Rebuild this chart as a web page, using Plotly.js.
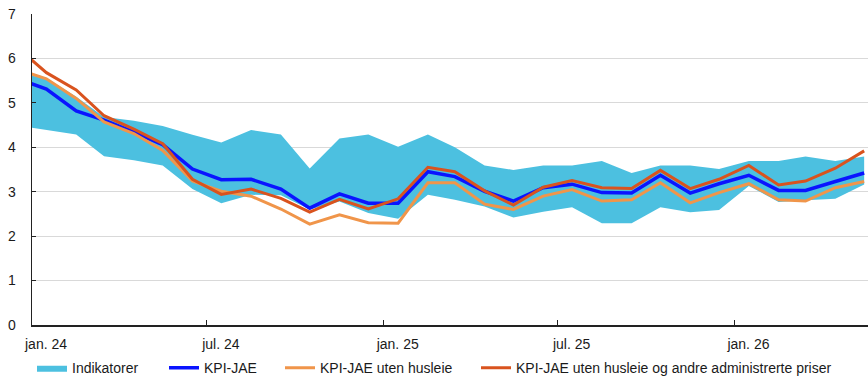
<!DOCTYPE html>
<html>
<head>
<meta charset="utf-8">
<script src="https://cdn.plot.ly/plotly-3.0.1.min.js"></script>
<style>html,body{margin:0;padding:0;background:#fff;}#chart{width:868px;height:379px;}</style>
</head>
<body>
<div id="chart"></div>
<script>
// Monthly observations (mid-month); Dec 2023 lies just left of the visible range
const months = ['2023-12-16','2024-01-16','2024-02-16','2024-03-16','2024-04-16','2024-05-16','2024-06-16',
  '2024-07-16','2024-08-16','2024-09-16','2024-10-16','2024-11-16','2024-12-16',
  '2025-01-16','2025-02-16','2025-03-16','2025-04-16','2025-05-16','2025-06-16',
  '2025-07-16','2025-08-16','2025-09-16','2025-10-16','2025-11-16','2025-12-16',
  '2026-01-16','2026-02-16','2026-03-16','2026-04-16','2026-05-16'];

const indikatorerHigh = [5.66,5.56,5.14,4.68,4.60,4.48,4.28,4.11,4.39,4.29,3.52,4.20,4.29,4.01,4.29,4.00,3.59,3.49,3.59,3.59,3.69,3.42,3.59,3.59,3.51,3.69,3.69,3.79,3.69,3.79];
const indikatorerLow  = [4.49,4.39,4.29,3.80,3.71,3.59,3.06,2.74,2.93,2.92,2.60,2.78,2.52,2.39,2.93,2.82,2.67,2.42,2.55,2.65,2.29,2.29,2.65,2.54,2.59,3.13,2.77,2.81,2.84,3.16];
const kpiJae          = [5.55,5.31,4.82,4.61,4.34,4.06,3.51,3.27,3.28,3.06,2.63,2.95,2.74,2.74,3.45,3.34,3.01,2.79,3.09,3.17,2.98,2.97,3.37,2.97,3.18,3.37,3.03,3.03,3.23,3.42];
const kpiJaeUtenHusleie = [5.76,5.54,5.10,4.57,4.31,3.93,3.24,3.01,2.90,2.61,2.27,2.48,2.30,2.29,3.20,3.20,2.72,2.60,2.90,3.05,2.79,2.82,3.20,2.75,2.98,3.18,2.82,2.79,3.09,3.23];
const kpiJaeUtenAdm   = [6.26,5.68,5.29,4.71,4.41,4.08,3.28,2.94,3.06,2.85,2.54,2.83,2.61,2.84,3.55,3.45,3.02,2.70,3.10,3.25,3.09,3.07,3.48,3.07,3.28,3.59,3.15,3.24,3.53,3.92];

const tickDates = ['2024-01-01','2024-07-01','2025-01-01','2025-07-01','2026-01-01'];
const tickLabels = ['jan. 24','jul. 24','jan. 25','jul. 25','jan. 26'];
const yTicks = [0,1,2,3,4,5,6,7];

const names = ['Indikatorer','KPI-JAE','KPI-JAE uten husleie','KPI-JAE uten husleie og andre administrerte priser'];

const traces = [
  {x: months, y: indikatorerLow, type:'scatter', mode:'lines', line:{width:0, color:'#4cc0e0'}, showlegend:false, hoverinfo:'skip'},
  {x: months, y: indikatorerHigh, type:'scatter', mode:'lines', fill:'tonexty', fillcolor:'#4cc0e0', line:{width:0, color:'#4cc0e0'}, name:names[0], legend:'legend'},
  {x: months, y: kpiJae, type:'scatter', mode:'lines', line:{width:3.5, color:'#0a14ff'}, name:names[1], legend:'legend2'},
  {x: months, y: kpiJaeUtenHusleie, type:'scatter', mode:'lines', line:{width:3, color:'#f0954a'}, name:names[2], legend:'legend3'},
  {x: months, y: kpiJaeUtenAdm, type:'scatter', mode:'lines', line:{width:3, color:'#d9531e'}, name:names[3], legend:'legend4'}
];

const font = {family:'"Liberation Sans", Arial, sans-serif', size:14, color:'#1a1a1a'};
function lg(px){ return {x:(px-32)/836, xanchor:'left', y:-0.139, yanchor:'middle', orientation:'h', font:font, bgcolor:'rgba(0,0,0,0)', borderwidth:0}; }

const layout = {
  width:868, height:379,
  margin:{l:32, r:0, t:14, b:54, autoexpand:false},
  paper_bgcolor:'#fff', plot_bgcolor:'#fff',
  font:font,
  xaxis:{type:'date', range:['2024-01-01','2026-05-20'], tickvals:tickDates, ticktext:tickLabels,
    ticks:'inside', ticklen:5, tickcolor:'#222', tickwidth:1, showgrid:false, zeroline:false,
    showline:true, linecolor:'#222', linewidth:1.5, ticklabelshift:14, ticklabelstandoff:6, tickfont:font},
  yaxis:{range:[0,7], tickvals:yTicks, ticks:'inside', ticklen:4, tickcolor:'#222',
    showgrid:true, gridcolor:'#d9d9d9', gridwidth:1, zeroline:false,
    showline:true, linecolor:'#222', linewidth:1.5, ticklabelstandoff:12, tickfont:font},
  showlegend:true,
  legend:lg(32), legend2:lg(164), legend3:lg(280), legend4:lg(476)
};

Plotly.newPlot('chart', traces, layout, {displayModeBar:false, staticPlot:true});
</script>
</body>
</html>
